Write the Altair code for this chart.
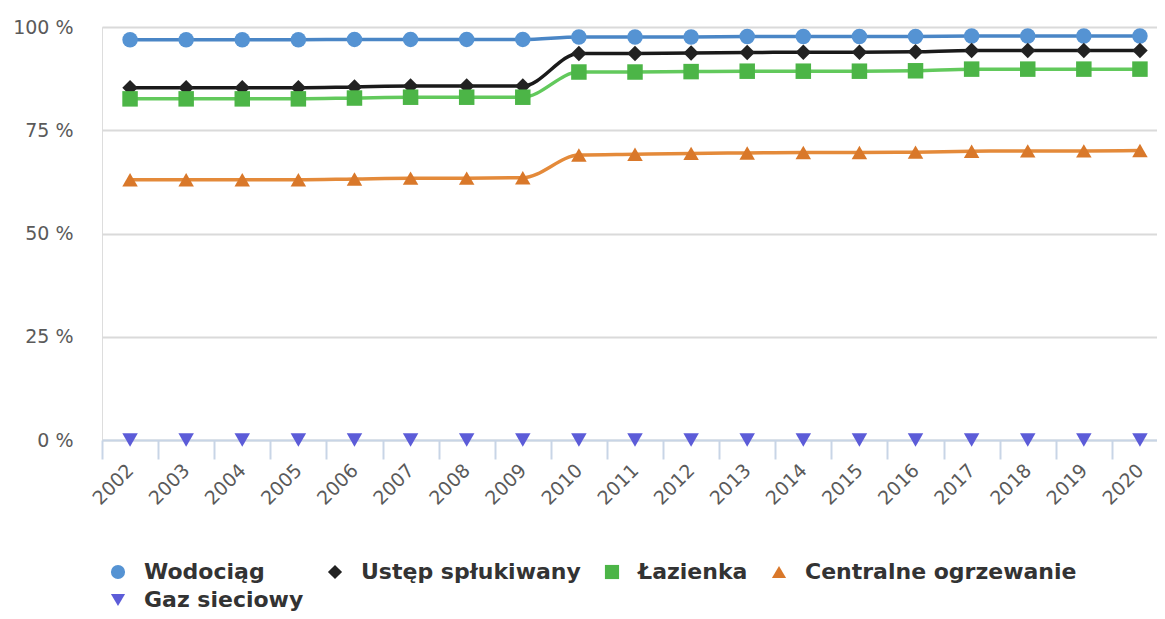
import altair as alt
import pandas as pd

years = [str(y) for y in [2002, 2003, 2004, 2005, 2006, 2007, 2008, 2009, 2010, 2011,
                          2012, 2013, 2014, 2015, 2016, 2017, 2018, 2019, 2020]]
series_names = ["Wodociąg", "Ustęp spłukiwany", "Łazienka", "Centralne ogrzewanie", "Gaz sieciowy"]
wodociag = [96.9, 96.9, 96.9, 96.9, 97.0, 97.0, 97.0, 97.0, 97.6, 97.6, 97.6, 97.7, 97.7, 97.7, 97.7, 97.8, 97.8, 97.8, 97.8]
ustep = [85.3, 85.3, 85.3, 85.3, 85.5, 85.7, 85.7, 85.7, 93.6, 93.6, 93.7, 93.8, 93.9, 93.9, 94.0, 94.3, 94.3, 94.3, 94.3]
lazienka = [82.6, 82.6, 82.6, 82.6, 82.8, 83.0, 83.0, 83.0, 89.1, 89.1, 89.2, 89.3, 89.3, 89.3, 89.4, 89.8, 89.8, 89.8, 89.8]
centralne = [63.0, 63.0, 63.0, 63.0, 63.2, 63.4, 63.4, 63.5, 69.0, 69.2, 69.4, 69.5, 69.6, 69.6, 69.7, 69.9, 70.0, 70.0, 70.1]
gaz = [0, 0, 0, 0, 0, 0, 0, 0, 0, 0, 0, 0, 0, 0, 0, 0, 0, 0, 0]
y_ticks = [0, 25, 50, 75, 100]

marker_colors = ["#5593d3", "#222222", "#4cb547", "#d9782a", "#5c5cd8"]
line_colors = ["#4a86c6", "#1a1a1a", "#62c95c", "#e48a3a", "#5c5cd8"]
shapes = ["circle", "diamond", "square", "triangle-up", "triangle-down"]

rows = []
for name, vals in zip(series_names, [wodociag, ustep, lazienka, centralne, gaz]):
    for yr, v in zip(years, vals):
        rows.append({"Rok": yr, "Seria": name, "Wartość": v})
df = pd.DataFrame(rows)

x_enc = alt.X("Rok:N", sort=years,
              scale=alt.Scale(paddingInner=0, paddingOuter=0, range=[0, 1066]),
              axis=alt.Axis(title=None, labelAngle=-45, labelAlign="right", labelBaseline="middle",
                            labelFont="DejaVu Sans", labelFontSize=19, labelColor="#5a5a5a",
                            labelPadding=8, tickBand="extent", tickSize=19, tickColor="#c8d5e6",
                            tickWidth=2, domainColor="#c8d5e6", domainWidth=2, grid=False))
y_enc = alt.Y("Wartość:Q", scale=alt.Scale(domain=[0, 100], nice=False),
              axis=alt.Axis(title=None, values=y_ticks, labelExpr="datum.value + ' %'",
                            labelFont="DejaVu Sans", labelFontSize=19, labelColor="#5a5a5a",
                            labelPadding=29, ticks=False, domain=False, grid=True,
                            gridColor="#dadada", gridWidth=2))

legend = alt.Legend(title=None, orient="none", legendX=5, legendY=534,
                    direction="horizontal", columns=4,
                    columnPadding=20, rowPadding=6, padding=0,
                    symbolSize=200, labelOffset=15, symbolStrokeWidth=0,
                    labelFont="DejaVu Sans", labelFontSize=22,
                    labelFontWeight="bold", labelColor="#333333",
                    labelLimit=400)

base = alt.Chart(df)

line_layers = []
for name, col in zip(series_names[:4], line_colors[:4]):
    line_layers.append(
        base.transform_filter(alt.datum.Seria == name).mark_line(
            interpolate="monotone", strokeWidth=3.5, color=col).encode(x=x_enc, y=y_enc)
    )

points = base.mark_point(filled=True, opacity=1, size=240).encode(
    x=x_enc, y=y_enc,
    color=alt.Color("Seria:N", sort=series_names,
                    scale=alt.Scale(domain=series_names, range=marker_colors),
                    legend=legend),
    shape=alt.Shape("Seria:N", sort=series_names,
                    scale=alt.Scale(domain=series_names, range=shapes),
                    legend=legend),
)

chart = alt.layer(*line_layers, points).properties(
    width=1055, height=413,
    autosize=alt.AutoSizeParams(type="none"),
    padding={"left": 94, "top": 19, "right": 0, "bottom": 171},
).configure_view(stroke=None).configure(background="white")

chart.save("out.html", embed_options={"renderer": "svg", "actions": False})
